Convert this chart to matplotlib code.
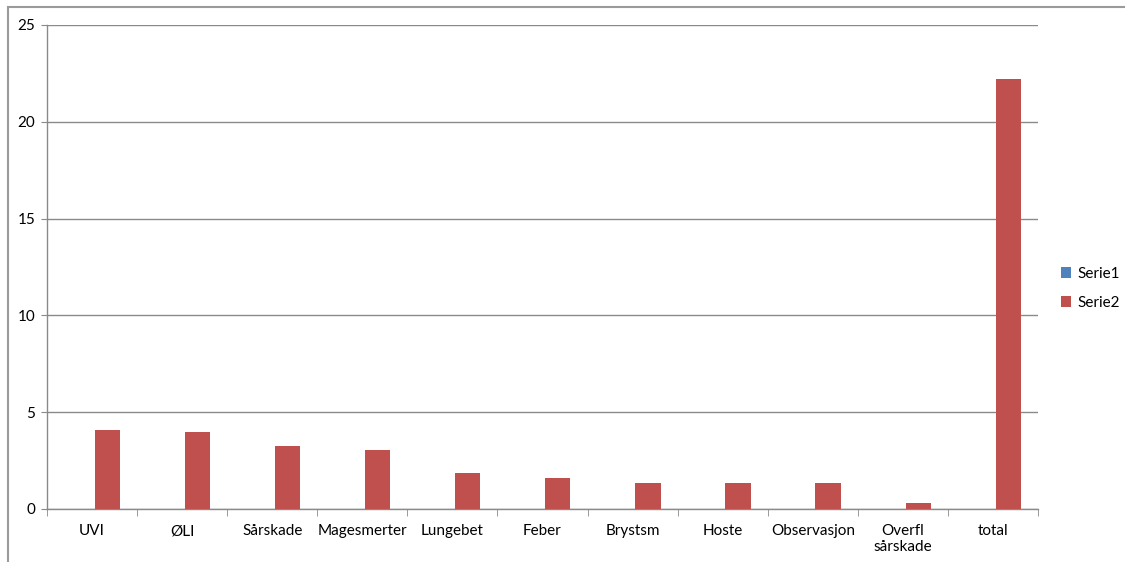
import numpy as np
import matplotlib.pyplot as plt
from matplotlib.patches import Rectangle

plt.rcParams['font.family'] = ['Lato', 'DejaVu Sans']

kategorier = ['UVI', 'ØLI', 'Sårskade', 'Magesmerter', 'Lungebet', 'Feber',
              'Brystsm', 'Hoste', 'Observasjon', 'Overfl\nsårskade', 'total']
serie1 = [0, 0, 0, 0, 0, 0, 0, 0, 0, 0, 0]
serie2 = [4.08, 4.0, 3.25, 3.05, 1.87, 1.6, 1.33, 1.33, 1.33, 0.31, 22.2]
y_ticks = [0, 5, 10, 15, 20, 25]

fig = plt.figure(figsize=(11.25, 5.62), dpi=100)
ax = fig.add_axes([47 / 1125, 1 - 509 / 562, (1038 - 47) / 1125, (509 - 25) / 562])

x = np.arange(len(kategorier))
w = 0.28
ax.bar(x - w / 2 + 0.03, serie1, width=w, color='#4F81BD', label='Serie1', zorder=3)
ax.bar(x + w / 2 + 0.03, serie2, width=w, color='#C0504D', label='Serie2', zorder=3)

ax.set_xlim(-0.5, len(kategorier) - 0.5)
ax.set_ylim(0, 25)
ax.set_yticks(y_ticks)
ax.yaxis.grid(True, color='#8a8a8a', linewidth=1)
ax.set_axisbelow(True)

ax.set_xticks(x)
ax.set_xticklabels(kategorier, fontsize=11, linespacing=1.15)
ax.set_xticks(np.arange(len(kategorier) + 1) - 0.5, minor=True)
ax.tick_params(axis='x', which='major', length=0, pad=11)
ax.tick_params(axis='x', which='minor', length=5, color='#8a8a8a', direction='out')
ax.tick_params(axis='y', length=4, color='#8a8a8a', labelsize=11, pad=4.5)

for side in ['top', 'right']:
    ax.spines[side].set_visible(False)
for side in ['left', 'bottom']:
    ax.spines[side].set_color('#8a8a8a')
    ax.spines[side].set_linewidth(1)

leg = ax.legend(loc='center left', bbox_to_anchor=(1.009, 0.456), frameon=False,
                fontsize=11, handlelength=0.7, handleheight=0.7,
                handletextpad=0.4, labelspacing=1.0)

# gray frame around the chart area
fig.add_artist(Rectangle((8 / 1125, -0.05), 1.2, 1 - 7 / 562 + 0.05,
                         transform=fig.transFigure, fill=False,
                         edgecolor='#9a9a9a', linewidth=1.5, clip_on=False))

fig.savefig('out.png', dpi=100)
